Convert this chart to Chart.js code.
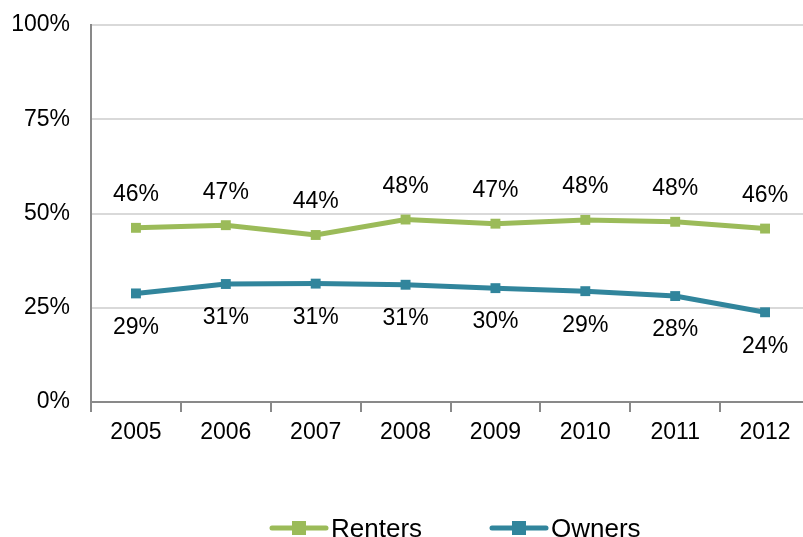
<!DOCTYPE html>
<html>
<head>
<meta charset="utf-8">
<script src="https://cdn.jsdelivr.net/npm/chart.js@4.4.1/dist/chart.umd.min.js"></script>
<style>
  html, body { margin: 0; padding: 0; background: #fff; overflow: hidden; }
  /* plot runs a few pixels past the right edge in the original, so the canvas is a bit wider than the window */
  #wrap { width: 817px; height: 537px; position: relative; }
</style>
</head>
<body>
<div id="wrap"><canvas id="myChart"></canvas></div>
<script>
var years = ['2005','2006','2007','2008','2009','2010','2011','2012'];
var renters = [46.2, 46.9, 44.3, 48.4, 47.3, 48.3, 47.8, 46.0];
var owners = [28.8, 31.3, 31.4, 31.1, 30.2, 29.4, 28.1, 23.8];
var yTicks = [0, 25, 50, 75, 100];

var greenCol = '#9bbb59';
var tealCol = '#31859c';
var fontFam = '"Liberation Sans", Arial, sans-serif';

// value labels, renters above and owners below
var pointLabels = {
    id: 'pointLabels',
    afterDatasetsDraw: function(chart) {
        var ctx = chart.ctx;
        ctx.save();
        ctx.font = '23px ' + fontFam;
        ctx.fillStyle = '#000';
        ctx.textAlign = 'center';
        ctx.textBaseline = 'middle';
        chart.data.datasets.forEach(function(ds, i) {
            var meta = chart.getDatasetMeta(i);
            meta.data.forEach(function(pt, j) {
                var txt = Math.round(ds.data[j]) + '%';
                var dy = i === 0 ? -33 : 34;
                ctx.fillText(txt, pt.x, pt.y + dy);
            });
        });
        ctx.restore();
    }
};

// legend drawn by hand: line with square marker
var bottomLegend = {
    id: 'bottomLegend',
    afterDraw: function(chart) {
        var ctx = chart.ctx;
        var items = [
            {label: 'Renters', color: greenCol, x: 272},
            {label: 'Owners', color: tealCol, x: 492}
        ];
        var y = 528;
        ctx.save();
        items.forEach(function(it) {
            ctx.strokeStyle = it.color;
            ctx.lineWidth = 5;
            ctx.lineCap = 'round';
            ctx.beginPath();
            ctx.moveTo(it.x, y);
            ctx.lineTo(it.x + 54, y);
            ctx.stroke();
            ctx.fillStyle = it.color;
            ctx.fillRect(it.x + 20, y - 7, 14, 14);
            ctx.fillStyle = '#000';
            ctx.font = '26px ' + fontFam;
            ctx.textAlign = 'left';
            ctx.textBaseline = 'alphabetic';
            ctx.fillText(it.label, it.x + 59, 537);
        });
        ctx.restore();
    }
};

var ctx = document.getElementById('myChart').getContext('2d');
var myChart = new Chart(ctx, {
    type: 'line',
    data: {
        labels: years,
        datasets: [
            {
                label: 'Renters',
                data: renters,
                borderColor: greenCol,
                backgroundColor: greenCol,
                borderWidth: 5,
                pointStyle: 'rect',
                pointRadius: 7,
                pointBorderWidth: 0,
                tension: 0
            },
            {
                label: 'Owners',
                data: owners,
                borderColor: tealCol,
                backgroundColor: tealCol,
                borderWidth: 5,
                pointStyle: 'rect',
                pointRadius: 7,
                pointBorderWidth: 0,
                tension: 0
            }
        ]
    },
    options: {
        responsive: true,
        maintainAspectRatio: false,
        animation: false,
        layout: { padding: { top: 25, right: 0, left: 0, bottom: 0 } },
        plugins: {
            legend: { display: false },
            tooltip: { enabled: false }
        },
        scales: {
            x: {
                offset: true,
                afterFit: function(s) {
                    s.height = 135;
                    s.paddingLeft = 0;
                    s.paddingRight = 0;
                },
                grid: {
                    offset: true,
                    drawOnChartArea: false,
                    drawTicks: true,
                    tickLength: 10,
                    color: '#898989',
                    lineWidth: 2
                },
                border: { color: '#898989', width: 2 },
                ticks: {
                    color: '#000',
                    font: { family: fontFam, size: 23 },
                    padding: 7,
                    maxRotation: 0
                }
            },
            y: {
                min: 0,
                max: 100,
                afterFit: function(s) {
                    s.width = 91;
                    s.paddingTop = 0;
                    s.paddingBottom = 0;
                },
                afterBuildTicks: function(s) {
                    s.ticks = yTicks.map(function(v) { return {value: v}; });
                },
                grid: {
                    drawTicks: false,
                    color: '#d9d9d9',
                    lineWidth: 2
                },
                border: { color: '#898989', width: 2 },
                ticks: {
                    color: '#000',
                    font: { family: fontFam, size: 23 },
                    padding: 21,
                    callback: function(v) { return v + '%'; }
                }
            }
        }
    },
    plugins: [pointLabels, bottomLegend]
});
</script>
</body>
</html>
